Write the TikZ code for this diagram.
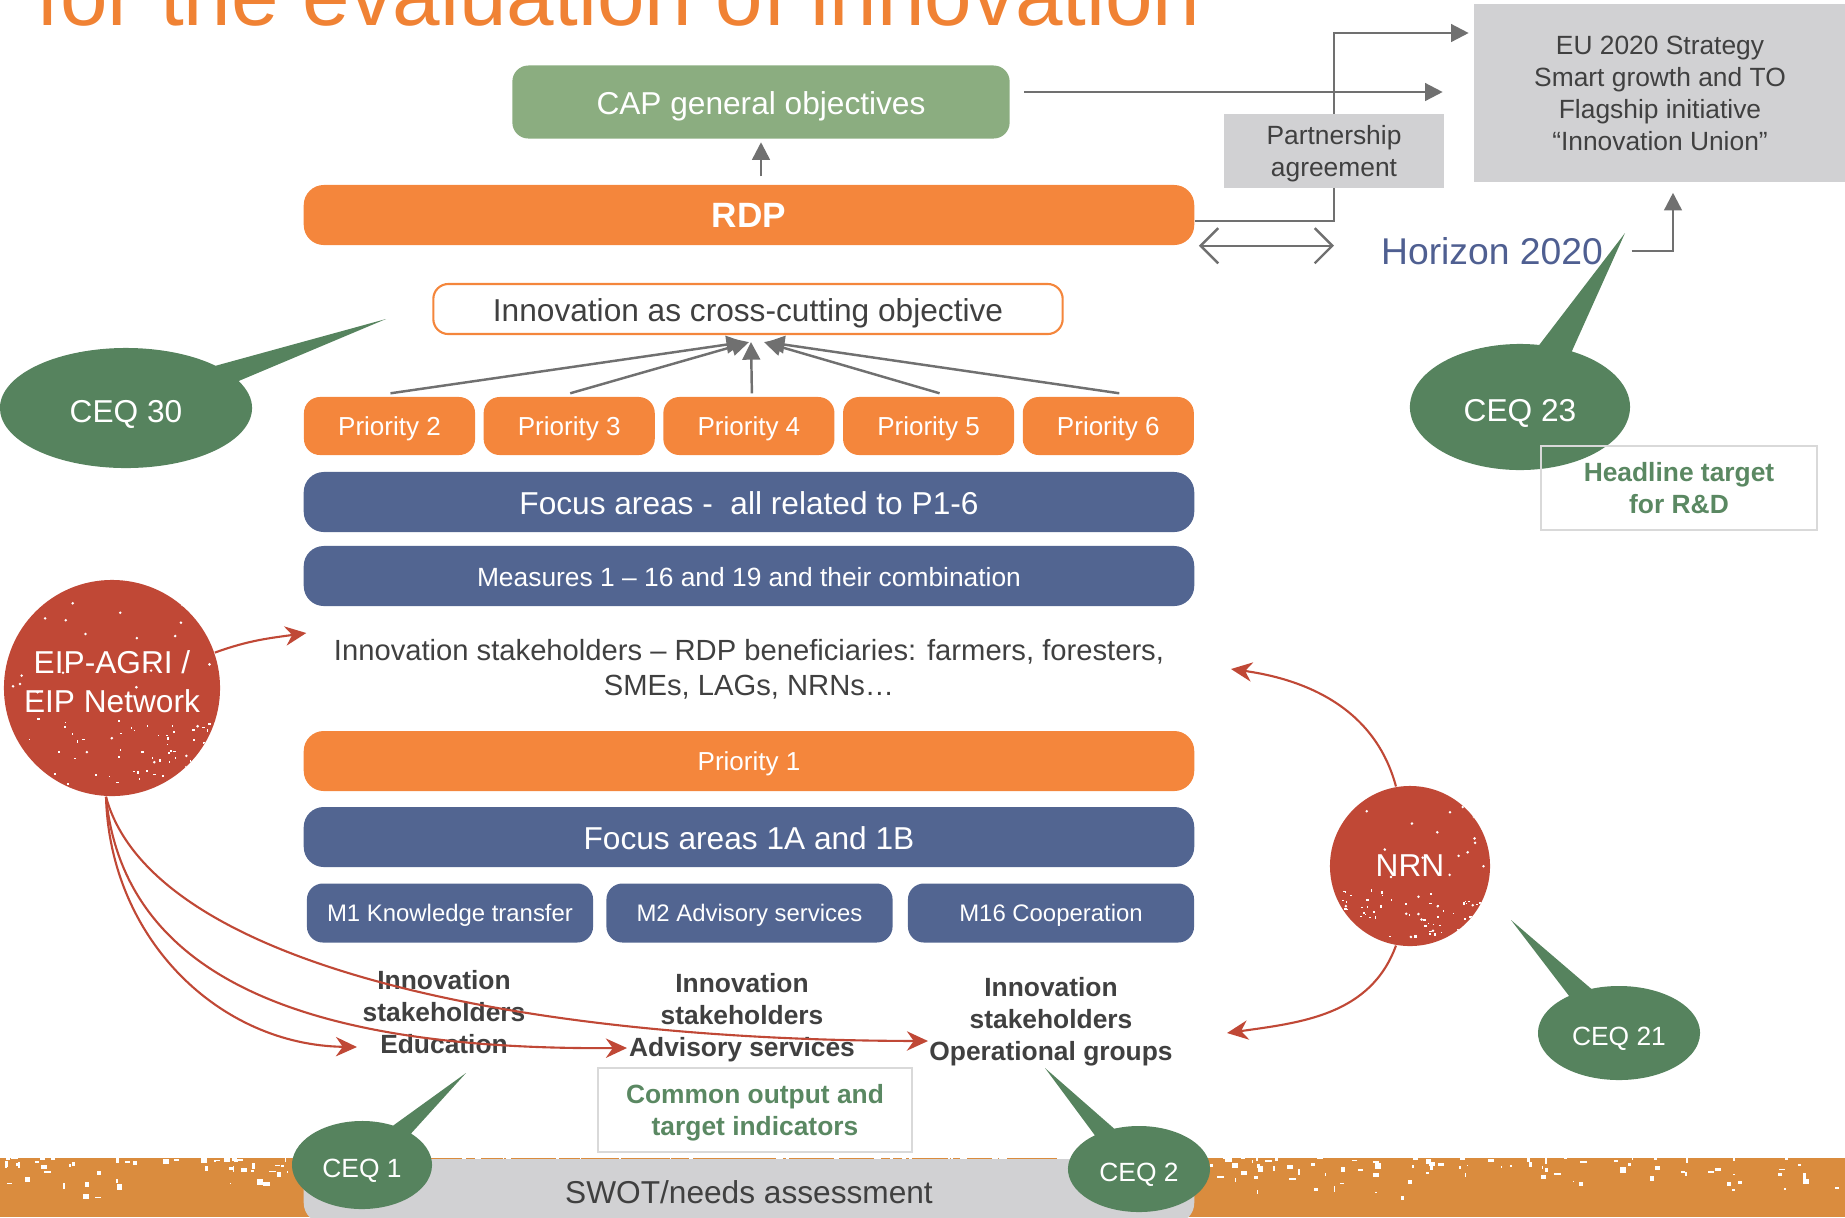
\documentclass[tikz,border=0pt]{standalone}
\usepackage{fontspec}
\setmainfont{Liberation Sans}
\usetikzlibrary{positioning,arrows.meta,shapes.callouts,calc}

\definecolor{rdporange}{RGB}{244,134,60}
\definecolor{fablue}{RGB}{82,101,145}
\definecolor{ceqgreen}{RGB}{86,131,94}
\definecolor{capgreen}{RGB}{139,173,128}
\definecolor{eipred}{RGB}{192,72,54}
\definecolor{boxgray}{RGB}{209,209,211}
\definecolor{textgray}{RGB}{64,64,64}
\definecolor{linegray}{RGB}{112,112,112}
\definecolor{hzblue}{RGB}{79,95,145}
\definecolor{bandorange}{RGB}{218,140,62}
\definecolor{titleorange}{RGB}{240,130,52}
\definecolor{indgreen}{RGB}{90,136,98}

\pgfdeclarelayer{background}
\pgfsetlayers{background,main}

\begin{document}
\begin{tikzpicture}[x=0.01cm, y=-0.01cm,
    bar/.style={rectangle, rounded corners=0.2cm, minimum width=8.9cm, minimum height=0.6cm, inner sep=0pt, text height=7.2pt, text depth=0pt, text=white, font=\fontsize{9}{11}\selectfont},
    obar/.style={bar, fill=rdporange},
    bbar/.style={bar, fill=fablue},
    prio/.style={obar, minimum width=1.71cm, minimum height=0.58cm, rounded corners=0.16cm, text height=5.6pt, font=\fontsize{7.4}{9}\selectfont},
    meas/.style={bbar, minimum width=2.86cm, minimum height=0.59cm, rounded corners=0.16cm, text height=5.1pt, font=\fontsize{6.8}{8}\selectfont},
    greybox/.style={rectangle, fill=boxgray, text=textgray, align=center, inner sep=0pt, text depth=0pt, font=\fontsize{7.5}{9.1}\selectfont},
    ind/.style={rectangle, draw=black!15, line width=0.6pt, text=indgreen, align=center, inner sep=0pt, text depth=0pt, font=\bfseries\fontsize{7.5}{9}\selectfont},
    stake/.style={align=center, text=textgray, inner sep=0pt, font=\bfseries\fontsize{7.5}{9.1}\selectfont},
    ceq/.style={ellipse callout, fill=ceqgreen, text=white, inner sep=0pt, text height=8.4pt, text depth=0pt, callout pointer arc=18, font=\fontsize{9}{11}\selectfont},
    ceqs/.style={ceq, text height=7.3pt, font=\fontsize{7.5}{9}\selectfont},
    grunge/.style={path picture={
        \foreach \k in {1,...,60}
          \fill[white] ($(path picture bounding box.center)+({rand*#1},{#1*(0.3+0.65*rnd)})$) rectangle ++({0.5+rnd*2.5},{0.5+rnd*2.5});
        \foreach \k in {1,...,25}
          \fill[white] ($(path picture bounding box.center)+({rand*#1},{rand*#1})$) circle (0.4pt);}},
    net/.style={circle, fill=eipred, text=white, inner sep=0pt, align=center, font=\fontsize{9}{11}\selectfont},
    link/.style={draw=linegray, line width=0.7pt, -{Triangle[length=5pt,width=5pt]}},
    redlink/.style={draw=eipred, line width=0.6pt, -{Stealth[length=6pt,width=5.5pt]}}
]
\useasboundingbox (0,0) rectangle (1845,1217);
\clip (0,0) rectangle (1845,1217);
\pgfmathsetseed{11}

% bottom band
\fill[bandorange] (0,1158) rectangle (1845,1217);
\foreach \k in {1,...,320}
  \fill[white] ({rnd*1845},{1156+45*rnd*rnd}) rectangle ++({1+rnd*6},{1+rnd*5});
\node[bar, fill=boxgray, text=textgray, minimum height=0.64cm] (swot) at (749,1191) {SWOT/needs assessment};

\node[anchor=base west, inner sep=0pt, text=titleorange, font=\fontsize{24.3}{28}\selectfont] (title) at (36,25) {for the evaluation of innovation};

% upper part
\node[bar, fill=capgreen, minimum width=4.97cm, minimum height=0.73cm, rounded corners=0.16cm] (cap) at (761,102) {CAP general objectives};
\node[obar, text height=7.3pt, font=\bfseries\fontsize{10}{12}\selectfont] (rdp) at (749,215) {RDP};
\node[greybox, minimum width=2.19cm, minimum height=0.74cm] (pa) at (1334,151) {Partnership\\agreement};
\node[greybox, minimum width=3.71cm, minimum height=1.78cm] (eu) at (1660,93) {EU 2020 Strategy\\Smart growth and TO\\Flagship initiative\\“Innovation Union”};
\node[text=hzblue, inner sep=0pt, font=\fontsize{10.6}{12}\selectfont] (hor) at (1492,251) {Horizon 2020};

\node[rectangle, draw=rdporange, line width=0.6pt, fill=white, rounded corners=0.15cm, minimum width=6.29cm, minimum height=0.5cm, text height=7.2pt, text depth=0pt, text=textgray, font=\fontsize{9}{11}\selectfont] (inno) at (748,309) {Innovation as cross-cutting objective};

\foreach \i [evaluate=\i as \px using 389.5+179.7*(\i-2)] in {2,...,6}
  \node[prio] (p\i) at (\px,426) {Priority \i};

\node[bbar] (fa) at (749,502) {Focus areas -\ \ all related to P1-6};
\node[bbar, text height=5.7pt, font=\fontsize{7.5}{9}\selectfont] (meas) at (749,576) {Measures 1 – 16 and 19 and their combination};
\node[align=center, text=textgray, inner sep=0pt, font=\fontsize{8.3}{10}\selectfont] (benef) at (749,669) {Innovation stakeholders – RDP beneficiaries: farmers, foresters,\\SMEs, LAGs, NRNs…};

% lower part
\node[obar, text height=5.6pt, font=\fontsize{7.4}{9}\selectfont] (p1) at (749,761) {Priority 1};
\node[bbar] (fa1) at (749,837) {Focus areas 1A and 1B};
\node[meas] (m1) at (450,913) {M1 Knowledge transfer};
\node[meas] (m2) at (749.5,913) {M2 Advisory services};
\node[meas] (m16) at (1051,913) {M16 Cooperation};

\node[stake] (edu) at (444,1012) {Innovation\\stakeholders\\Education};
\node[stake] (adv) at (742,1018) {Innovation\\stakeholders\\Advisory services};
\node[stake] (og) at (1051,1022) {Innovation\\stakeholders\\Operational groups};
\node[ind, minimum width=3.14cm, minimum height=0.84cm] (coti) at (755,1110) {Common output and\\target indicators};

% networks
\node[net, grunge=100, text depth=3.5pt, minimum size=2.16cm] (eip) at (112,688) {EIP-AGRI /\\EIP Network};
\node[net, grunge=75, minimum size=1.6cm] (nrn) at (1410,866) {NRN};

% evaluation questions
\node[ceq, minimum width=2.52cm, minimum height=1.2cm, callout absolute pointer={(386,319)}] (ceq30) at (126,408) {CEQ 30};
\node[ceq, minimum width=2.2cm, minimum height=1.26cm, callout absolute pointer={(1625,233)}] (ceq23) at (1520,407) {CEQ 23};
\node[ceqs, minimum width=1.62cm, minimum height=0.94cm, callout absolute pointer={(1511,920)}] (ceq21) at (1619,1033) {CEQ 21};
\node[ceqs, minimum width=1.4cm, minimum height=0.88cm, callout absolute pointer={(466,1073)}] (ceq1) at (362,1165) {CEQ 1};
\node[ceqs, minimum width=1.42cm, minimum height=0.86cm, callout absolute pointer={(1045,1068)}] (ceq2) at (1139,1169) {CEQ 2};

\node[ind, minimum width=2.75cm, minimum height=0.84cm] (head) at (1679,488) {Headline target\\for R\&D};

% connectors
\coordinate (eduin) at (357,1047);
\coordinate (advin) at (627,1048);
\coordinate (ogin) at (928,1041);
\coordinate (nrnup) at (1231,669);
\coordinate (nrndown) at (1227,1033);

\begin{pgfonlayer}{background}
\draw[link] ($(rdp.east)+(0,6)$) -| (pa.center) |- ($(eu.west)+(-5,-60)$);
\end{pgfonlayer}
\draw[link] ([yshift=0.08cm]cap.south |- rdp.north) -- ([yshift=-0.03cm]cap.south);
\draw[link] ($(cap.east)+(14,-10)$) -- ($(eu.west |- cap.east)+(-31,-10)$);
\draw[draw=linegray, line width=0.7pt, {Straight Barb[length=5pt,width=10pt]}-{Straight Barb[length=5pt,width=10pt]}] ($(rdp.south east)+(4,0)$) -- (pa.center |- rdp.south);
\draw[link] ($(hor.east)+(28,0)$) -| ($(eu.south)+(13,10)$);

\foreach \i/\sx/\tx in {2/1/-4,3/1/1,4/3/3,5/11/16,6/11/19}
  \draw[link] ($(p\i.north)+(\sx,-3)$) -- ($(inno.south)+(\tx,7)$);

\draw[redlink] (eip.19) to[out=20,in=188] ($(benef.west)+(-27,-36)$);
\draw[redlink] ($(eip.south)+(-6,0)$) .. controls (110,940) and (220,1045) .. (eduin);
\draw[redlink] ($(eip.south)+(-6,0)$) .. controls (125,990) and (330,1050) .. (advin);
\draw[redlink] ($(eip.south)+(-6,0)$) .. controls (150,960) and (500,1040) .. (ogin);
\draw[redlink] (nrn.100) to[out=105,in=-8] (nrnup);
\draw[redlink] (nrn.-100) to[out=-110,in=8] (nrndown);
\end{tikzpicture}
\end{document}
